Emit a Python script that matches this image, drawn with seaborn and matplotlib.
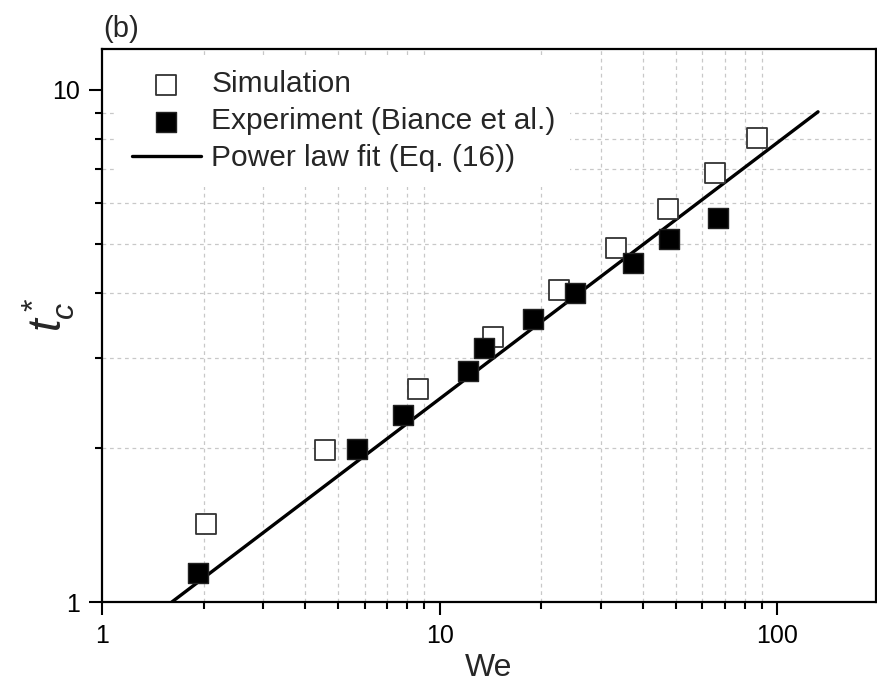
import numpy as np
import pandas as pd
import matplotlib
matplotlib.use("Agg")
import matplotlib.pyplot as plt
import seaborn as sns
from matplotlib.ticker import FixedLocator, NullFormatter, FixedFormatter

# ---- data ----
sim_we = [2.03, 4.56, 8.60, 14.4, 22.5, 33.3, 47.5, 65.2, 87.1]
sim_t = [1.42, 1.98, 2.61, 3.29, 4.06, 4.90, 5.84, 6.88, 8.04]

exp_we = [1.92, 5.71, 7.81, 12.1, 13.5, 18.9, 25.1, 37.3, 47.9, 66.7]
exp_t = [1.14, 1.99, 2.32, 2.82, 3.13, 3.56, 4.00, 4.59, 5.12, 5.61]

fit_we = [1.61, 132.0]
fit_t = [1.0, 9.05]

x_ticks = [1, 10, 100]
x_ticklabels = ["1", "10", "100"]
y_ticks = [1, 10]
y_ticklabels = ["1", "10"]

sim_df = pd.DataFrame({"We": sim_we, "t": sim_t})
exp_df = pd.DataFrame({"We": exp_we, "t": exp_t})
fit_df = pd.DataFrame({"We": fit_we, "t": fit_t})

sns.set_style("ticks")
plt.rcParams["font.family"] = ["Liberation Sans", "DejaVu Sans"]
plt.rcParams["mathtext.fontset"] = "custom"
plt.rcParams["mathtext.it"] = "Liberation Sans:italic"
plt.rcParams["mathtext.rm"] = "Liberation Sans"

fig = plt.figure(figsize=(8.77, 6.87), dpi=100)
ax = fig.add_axes([102 / 877, 1 - 602 / 687, (876 - 102) / 877, (602 - 49) / 687])

ax.set_xscale("log")
ax.set_yscale("log")
ax.set_xlim(1, 196)
ax.set_ylim(1, 12)

minor_x = [m * 10 ** d for d in range(0, 3) for m in range(2, 10) if m * 10 ** d < 196]
minor_y = [m for m in range(2, 10)]
ax.xaxis.set_minor_locator(FixedLocator(minor_x))
ax.yaxis.set_minor_locator(FixedLocator(minor_y))
ax.xaxis.set_major_locator(FixedLocator(x_ticks))
ax.yaxis.set_major_locator(FixedLocator(y_ticks))
ax.xaxis.set_major_formatter(FixedFormatter(x_ticklabels))
ax.yaxis.set_major_formatter(FixedFormatter(y_ticklabels))
ax.xaxis.set_minor_formatter(NullFormatter())
ax.yaxis.set_minor_formatter(NullFormatter())
ax.grid(which="minor", color="#c8c8c8", linestyle=(0, (3, 3)), linewidth=0.9)
ax.grid(which="major", visible=False)
ax.set_axisbelow(True)

sns.lineplot(data=fit_df, x="We", y="t", ax=ax, color="black", linewidth=2.4,
             label="Power law fit (Eq. (16))", zorder=2)
sns.scatterplot(data=sim_df, x="We", y="t", ax=ax, marker="s", s=190,
                facecolor="white", edgecolor="#333333", linewidth=1.3,
                label="Simulation", zorder=3)
sns.scatterplot(data=exp_df, x="We", y="t", ax=ax, marker="s", s=215,
                color="black", edgecolor="#222222", linewidth=1.0,
                label="Experiment (Biance et al.)", zorder=3)

for sp in ax.spines.values():
    sp.set_visible(True)
    sp.set_linewidth(1.6)
    sp.set_color("black")

ax.tick_params(which="major", direction="out", length=9.5, width=1.5, labelsize=18, pad=6, colors="black")
ax.tick_params(which="minor", direction="out", length=5, width=1.5, colors="black")

ax.set_xlabel("We", fontsize=23, labelpad=4)
ax.set_ylabel(r"$t_c^*$", fontsize=33)
ax.yaxis.set_label_coords(-0.032, 0.52)

handles, labels = ax.get_legend_handles_labels()
order = [labels.index("Simulation"), labels.index("Experiment (Biance et al.)"),
         labels.index("Power law fit (Eq. (16))")]
leg = ax.legend([handles[i] for i in order], [labels[i] for i in order],
                loc="upper left", bbox_to_anchor=(0.011, 1.0), fontsize=21.5,
                handlelength=2.3, handletextpad=0.35, labelspacing=0.3,
                borderpad=0.5, borderaxespad=0.22, frameon=True, fancybox=False)
leg.get_frame().set_facecolor("white")
leg.get_frame().set_edgecolor("none")
leg.get_frame().set_alpha(1.0)

fig.text(103 / 877, 1 - 29 / 687, "(b)", fontsize=21, va="center", ha="left")

fig.savefig("out.png", dpi=100)
